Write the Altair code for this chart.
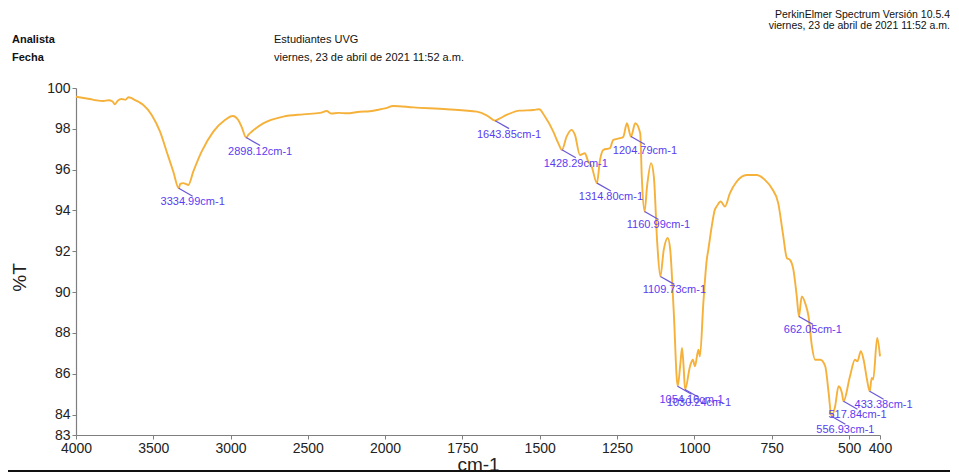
import altair as alt
import pandas as pd

# ---- spectrum (wavenumber cm-1, %T) ----
wavenumber = [4000, 3960, 3909, 3870, 3823, 3790, 3765, 3748, 3730, 3704, 3680, 3661, 3640, 3618,
              3590, 3564, 3510, 3456, 3413, 3370, 3335, 3325, 3306, 3290, 3273, 3241, 3187, 3111,
              3036, 2986, 2950, 2928, 2898, 2885, 2863, 2788, 2658, 2529, 2420, 2377, 2350, 2300,
              2248, 2162, 2100, 2054, 2000, 1973, 1908, 1800, 1703, 1670, 1644, 1630, 1607, 1565,
              1520, 1502, 1483, 1456, 1440, 1428, 1413, 1397, 1386, 1370, 1354, 1343, 1332, 1315,
              1305, 1294, 1273, 1262, 1240, 1230, 1218, 1205, 1191, 1175, 1170, 1161, 1153, 1140,
              1131, 1120, 1110, 1099, 1086, 1078, 1067, 1054, 1045, 1040, 1035, 1030, 1014, 1005,
              998, 987, 982, 971, 960, 955, 944, 934, 928, 915, 901, 885, 863, 831, 799, 772, 750,
              729, 714, 701, 691, 680, 669, 662, 653, 642, 631, 620, 610, 593, 577, 566, 557, 545,
              534, 523, 518, 497, 481, 473, 462, 452, 443, 433, 427, 422, 409, 400]
transmittance = [99.57, 99.52, 99.46, 99.40, 99.36, 99.40, 99.35, 99.20, 99.38, 99.46, 99.42, 99.55, 99.50, 99.41,
                 99.30, 99.17, 98.68, 97.86, 96.88, 95.90, 95.09, 95.30, 95.34, 95.30, 95.25, 95.90, 96.88, 97.86,
                 98.43, 98.63, 98.43, 98.10, 97.57, 97.70, 97.86, 98.27, 98.60, 98.71, 98.78, 98.87, 98.75, 98.78,
                 98.76, 98.84, 98.86, 98.92, 99.00, 99.12, 99.05, 98.96, 98.84, 98.65, 98.40, 98.50, 98.68, 98.89,
                 98.92, 98.96, 98.60, 97.86, 97.30, 96.97, 97.62, 97.95, 97.70, 96.72, 96.80, 96.39, 96.15, 95.34,
                 96.48, 96.97, 97.05, 97.46, 97.54, 97.60, 98.27, 97.62, 98.27, 97.78, 95.66, 93.95, 95.17, 96.32,
                 95.66, 92.40, 90.77, 92.07, 92.65, 92.07, 89.14, 85.39, 86.53, 87.26, 86.40, 85.23, 86.37, 86.69,
                 86.37, 87.18, 86.85, 89.47, 91.58, 92.07, 93.21, 94.03, 94.19, 94.44, 94.19, 94.85, 95.42, 95.74, 95.74, 95.50, 95.09,
                 94.36, 92.89, 91.67, 91.58, 91.10, 89.79, 88.81, 89.79, 89.47, 88.81, 87.34, 86.69, 86.69, 86.37, 85.06, 83.92, 84.41,
                 85.39, 85.06, 84.65, 85.88, 86.69, 86.61, 87.10, 86.61, 85.80, 85.14, 85.80, 85.72, 87.75, 86.85]

# ---- labelled peaks ----
peak_wn = [3334.99, 2898.12, 1643.85, 1428.29, 1314.80, 1204.79, 1160.99, 1109.73,
           1054.16, 1030.24, 662.05, 556.93, 517.84, 433.38]
peak_t = [95.09, 97.57, 98.40, 96.97, 95.34, 97.62, 93.95, 90.77,
          85.39, 85.23, 88.81, 83.92, 84.65, 85.14]
peak_label = [f"{w:.2f}cm-1" for w in peak_wn]

x_ticks = [4000, 3500, 3000, 2500, 2000, 1750, 1500, 1250, 1000, 750, 500, 400]
y_ticks = [83, 84, 86, 88, 90, 92, 94, 96, 98, 100]

header_left_keys = ["Analista", "Fecha"]
header_left_vals = ["Estudiantes UVG", "viernes, 23 de abril de 2021 11:52 a.m."]
header_right = ["PerkinElmer Spectrum Versión 10.5.4", "viernes, 23 de abril de 2021 11:52 a.m."]

W, H = 804, 347
LINE_COLOR = "#f5b13a"
PEAK_COLOR = "#5b3cf0"
HEAD_FONT = "Liberation Sans Narrow, Liberation Sans"

xscale = alt.Scale(domain=[4000, 2000, 400], range=[0, 309, W])
yscale = alt.Scale(domain=[83, 100], nice=False, zero=False)
xaxis = alt.Axis(values=x_ticks, format="d", title="cm-1", labelFlush=False,
                 labelOverlap=False, titleX=402, titleY=29, titleBaseline="middle",
                 titleAlign="center")
yaxis = alt.Axis(values=y_ticks, format="d", title="%T", labelOverlap=False,
                 titleX=-57, titleY=189, titleBaseline="middle", titleAlign="center",
                 titleAngle=-90)

spec = pd.DataFrame({"wn": wavenumber, "t": transmittance})
peaks = pd.DataFrame({"wn": peak_wn, "t": peak_t, "label": peak_label})

line = alt.Chart(spec).mark_line(color=LINE_COLOR, strokeWidth=1.9, interpolate="monotone").encode(
    x=alt.X("wn:Q", scale=xscale, axis=xaxis, title="cm-1"),
    y=alt.Y("t:Q", scale=yscale, axis=yaxis, title="%T"),
    order=alt.Order("wn:Q", sort="descending"),
)

peak_base = alt.Chart(peaks).transform_calculate(
    wn2="datum.wn > 2000 ? datum.wn - 90 : datum.wn - 45",
    t2="datum.t - 0.39",
)

leaders = peak_base.mark_rule(color="#6a58d8", strokeWidth=1.2).encode(
    x=alt.X("wn:Q", scale=xscale, axis=xaxis, title="cm-1"),
    y=alt.Y("t:Q", scale=yscale, axis=yaxis, title="%T"),
    x2="wn2:Q",
    y2="t2:Q",
)

peak_text = peak_base.mark_text(align="center", baseline="top", dy=0, fontSize=11,
                                font="Liberation Sans", color=PEAK_COLOR).encode(
    x=alt.X("wn2:Q", scale=xscale, axis=xaxis, title="cm-1"),
    y=alt.Y("t2:Q", scale=yscale, axis=yaxis, title="%T"),
    text="label:N",
)


def note(text, x, y, align="left", bold=False, size=11):
    return alt.Chart(pd.DataFrame({"s": [text]})).mark_text(
        align=align, baseline="middle", font=HEAD_FONT, fontSize=size,
        fontWeight="bold" if bold else "normal", color="#111").encode(
        x=alt.value(x), y=alt.value(y), text="s:N")


headers = [
    note(header_left_keys[0], -64, -48, bold=True),
    note(header_left_keys[1], -64, -30, bold=True),
    note(header_left_vals[0], 198, -48),
    note(header_left_vals[1], 198, -30),
    note(header_right[0], 874, -73, align="right", size=10.5),
    note(header_right[1], 874, -62, align="right", size=10.5),
]

bottom_rule = alt.Chart(pd.DataFrame({"a": [0]})).mark_rule(color="#111", strokeWidth=2).encode(
    x=alt.value(-76), x2=alt.value(876), y=alt.value(383))

chart = alt.layer(line, leaders, peak_text, bottom_rule, *headers).properties(
    width=W, height=H,
    autosize=alt.AutoSizeParams(type="none"),
    padding={"left": 68, "top": 80, "right": 70, "bottom": 39},
).configure_view(stroke=None).configure_axis(
    grid=False, domainColor="#7f7f7f", tickColor="#7f7f7f", domainWidth=1.2,
    labelColor="#222", labelFont="Liberation Sans", labelFontSize=14,
    titleFont="Liberation Sans", titleFontWeight="normal", titleFontSize=19, titleColor="#222",
    tickSize=4, labelPadding=2,
)

chart.save("out.html", embed_options={"renderer": "svg", "actions": False})
